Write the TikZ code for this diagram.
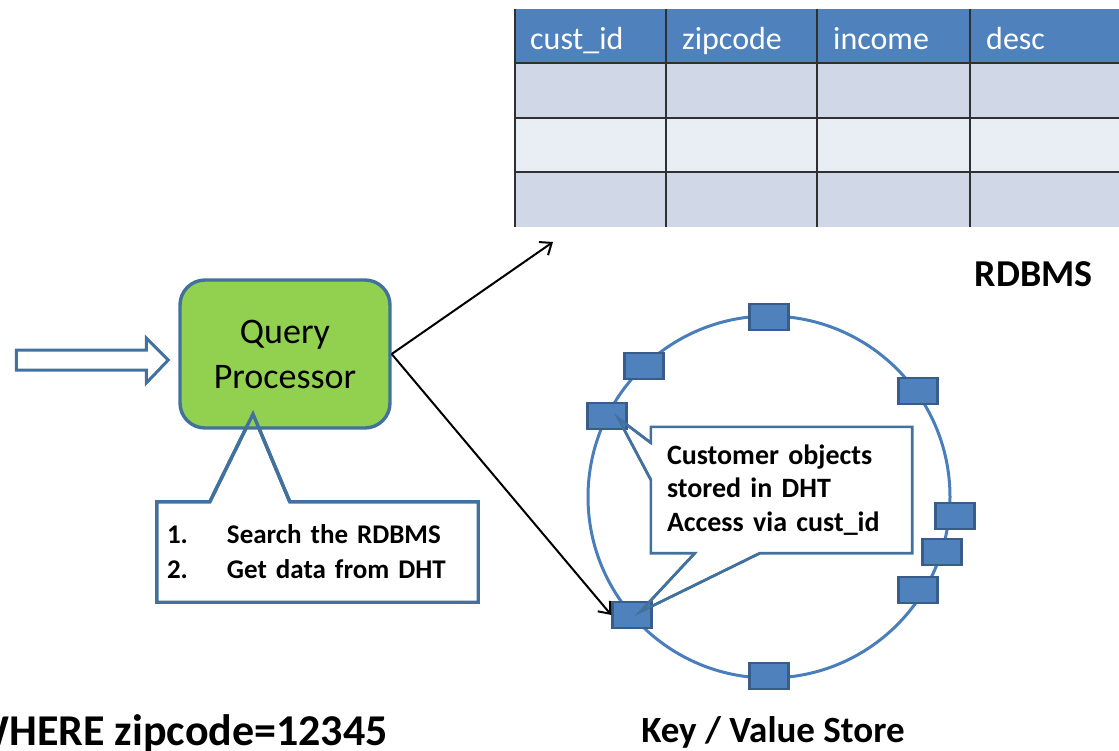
\documentclass[tikz,border=0pt]{standalone}
\usepackage{fontspec}
\setmainfont{Carlito}
\usetikzlibrary{arrows.meta,calc}

\definecolor{qpgreen}{HTML}{92D050}
\definecolor{edgeblue}{HTML}{41719C}
\definecolor{nodeblue}{HTML}{4F81BD}
\definecolor{nodeedge}{HTML}{385D8A}
\definecolor{ringblue}{HTML}{4A7EBB}
\definecolor{rowdark}{HTML}{D0D8E8}
\definecolor{rowlight}{HTML}{E9EDF4}
\definecolor{gridline}{HTML}{303030}

\tikzset{
  gridrule/.style={draw=gridline, line width=2.8pt},
  hdrtext/.style={text=white, font=\fontsize{32}{38}\selectfont, inner sep=0pt, anchor=base west},
  qpbox/.style={draw=edgeblue, line width=3.4pt, fill=qpgreen, rounded corners=25pt,
    minimum width=210pt, minimum height=148pt, align=center,
    font=\fontsize{36}{45}\selectfont},
  calloutline/.style={draw=edgeblue, line width=3.4pt, line join=miter},
  calloutthin/.style={draw=edgeblue, line width=2.6pt, line join=miter},
  dhtnode/.style={draw=nodeedge, fill=nodeblue, line width=2.4pt,
    minimum width=39pt, minimum height=26pt, inner sep=0pt},
  ringline/.style={draw=ringblue, line width=3pt},
  flow/.style={draw=black, line width=2pt, -{Straight Barb[length=10pt,width=16pt,line width=2pt]}},
  boldlabel/.style={font=\bfseries\fontsize{38}{44}\selectfont, inner sep=0pt},
}

\begin{document}
\begin{tikzpicture}[x=1pt, y=-1pt]
\useasboundingbox (0,0) rectangle (1119,751);
\clip (0,0) rectangle (1119,751);

% ---------- RDBMS table ----------
\fill[nodeblue] (515,9) rectangle (1130,63);
\fill[rowdark]  (515,63) rectangle (1130,118);
\fill[rowlight] (515,118) rectangle (1130,172);
\fill[rowdark]  (515,172) rectangle (1130,227);
\foreach \yy in {63,118,172} \draw[gridrule] (515,\yy) -- (1130,\yy);
\foreach \xx in {515,666,817,970} \draw[gridrule] (\xx,9) -- (\xx,227);

\node[hdrtext] (h1) at (530,50) {cust\_id};
\node[hdrtext] (h2) at (682,50) {zipcode};
\node[hdrtext] (h3) at (833,50) {income};
\node[hdrtext] (h4) at (986,50) {desc};

\node[boldlabel, anchor=base east] (rdbms) at (1093,287) {RDBMS};

% ---------- steps callout (behind the processor box) ----------
\node[minimum width=321pt, minimum height=100pt, inner xsep=10pt, inner ysep=0pt,
      text width=301pt, align=left, font=\bfseries\fontsize{27}{35}\selectfont]
      (steps) at (317.5,552) {};
\coordinate (qpapex) at (253,414);
\filldraw[calloutline, fill=white]
  (steps.north west) -- ($(steps.north west)+(53,0)$) -- (qpapex)
  -- ($(steps.north west)+(133,0)$) -- (steps.north east)
  -- (steps.south east) -- (steps.south west) -- cycle;
\node[minimum width=321pt, minimum height=100pt, inner xsep=10pt, inner ysep=0pt,
      text width=301pt, align=left, font=\bfseries\fontsize{27}{35}\selectfont]
      (stepstext) at (steps.center) {\makebox[60pt][l]{1.}Search the RDBMS\\\makebox[60pt][l]{2.}Get data from DHT};

% ---------- query processor ----------
\node[qpbox] (qp) at (285,354) {Query\\Processor};
\draw[calloutline] ($(steps.north west)+(53,0)$) -- (qpapex) -- ($(steps.north west)+(133,0)$);

% incoming block arrow
\coordinate (intip) at ($(qp.west)+(-10,6)$);
\filldraw[draw=edgeblue, fill=white, line width=3pt, line join=miter]
  ($(intip)+(-152,-10)$) -- ($(intip)+(-22,-10)$) -- ($(intip)+(-22,-22)$)
  -- (intip) -- ($(intip)+(-22,23)$) -- ($(intip)+(-22,10)$)
  -- ($(intip)+(-152,10)$) -- cycle;

% ---------- key / value ring ----------
\coordinate (ringc) at (769,497);
\draw[ringline] (ringc) circle[radius=181pt];

% DHT note callout
\node[minimum width=261pt, minimum height=126pt, inner xsep=16pt, inner ysep=0pt,
      text width=229pt, align=left, font=\bfseries\fontsize{28}{33.5}\selectfont]
      (note) at (781.5,490) {};
\coordinate (apexl) at (618,418);
\coordinate (apexb) at (640,612);
\filldraw[calloutthin, fill=white]
  (note.north west) -- (note.north east) -- (note.south east)
  -- ($(note.south west)+(109,0)$) -- (apexb) -- ($(note.south west)+(44,0)$)
  -- (note.south west) -- ($(note.north west)+(0,53)$) -- (apexl)
  -- ($(note.north west)+(0,16)$) -- cycle;
\node[minimum width=261pt, minimum height=126pt, inner xsep=16pt, inner ysep=0pt,
      text width=229pt, align=left, font=\bfseries\fontsize{28}{33.5}\selectfont]
      (notetext) at (note.center) {Customer objects\\stored in DHT\\Access via cust\_id};

% storage nodes on the ring
\node[dhtnode] (ntop) at (769,317) {};
\node[dhtnode] (nul)  at (644,366) {};
\node[dhtnode] (nl)   at (607,416) {};
\node[dhtnode] (nur)  at (918,391) {};
\node[dhtnode] (nr1)  at (955,516) {};
\node[dhtnode] (nr2)  at (942,552) {};
\node[dhtnode] (nr3)  at (918,590) {};
\node[dhtnode] (nbl)  at (632,615) {};
\node[dhtnode] (nbot) at (769,676) {};

\draw[calloutthin] ($(note.north west)+(0,53)$) -- (apexl) -- ($(note.north west)+(0,16)$);
\draw[calloutthin] ($(note.south west)+(109,0)$) -- (apexb) -- ($(note.south west)+(44,0)$);

% ---------- query flow ----------
\coordinate (rdbtip) at (553,242);
\draw[flow] (qp.east) -- (rdbtip);
\draw[flow] (qp.east) -- (nbl.west);

% ---------- captions ----------
\node[font=\bfseries\fontsize{44}{50}\selectfont, inner sep=0pt, anchor=base east]
  (query) at (388,745) {WHERE zipcode=12345};
\node[font=\bfseries\fontsize{37}{42}\selectfont, inner sep=0pt, anchor=base]
  (kvs) at (773,742) {Key / Value Store};
\end{tikzpicture}
\end{document}
